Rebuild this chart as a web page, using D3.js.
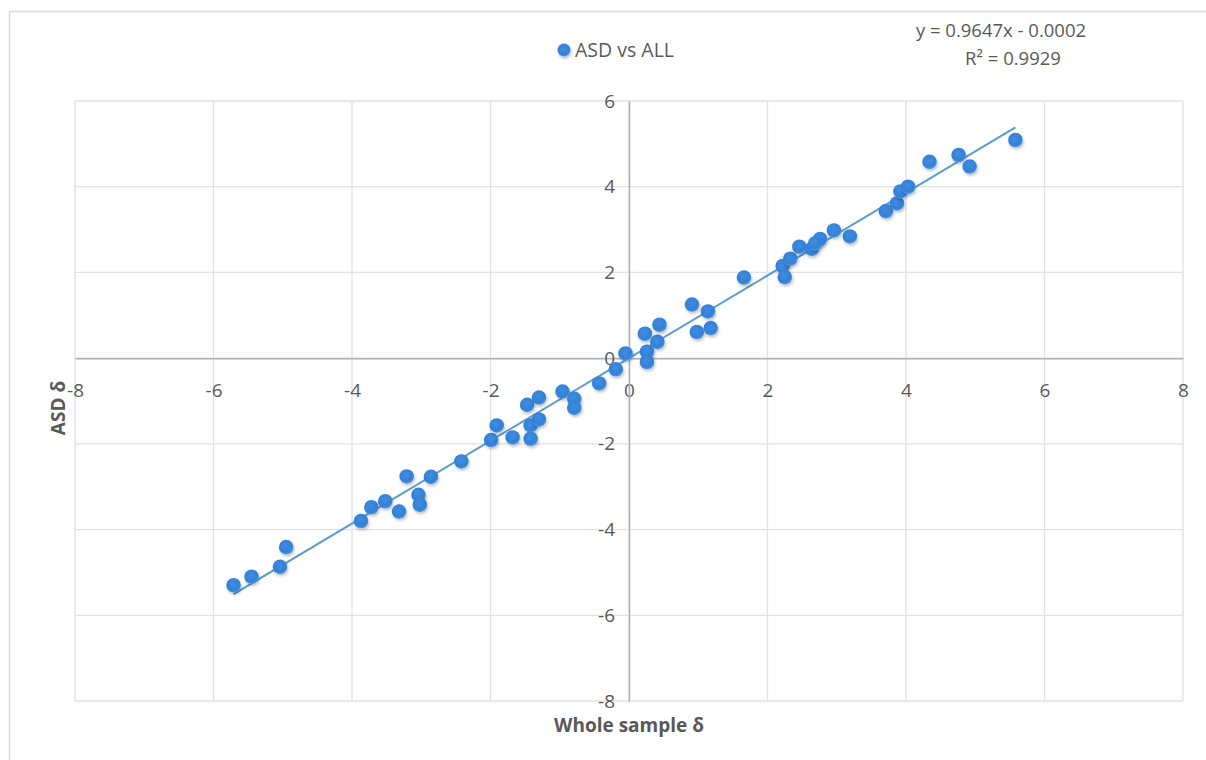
<!DOCTYPE html>
<html><head><meta charset="utf-8">
<script src="https://cdn.jsdelivr.net/npm/d3@7/dist/d3.min.js"></script>
<style>
html,body{margin:0;padding:0;background:#fff;}
svg text{font-family:"Open Sans",Lato,sans-serif;}
</style></head>
<body>
<svg id="chart" width="1206" height="760"></svg>
<script>
const xValues = [-5.71,-5.45,-5.04,-4.95,-3.87,-3.72,-3.52,-3.32,-3.21,-3.04,-3.02,-2.86,-2.42,-1.99,-1.91,
  -1.68,-1.47,-1.30,-1.42,-1.30,-1.42,-0.96,-0.79,-0.79,-0.43,-0.19,-0.05,0.23,0.26,0.26,0.41,0.44,0.91,1.14,0.98,1.18,
  1.66,2.22,2.25,2.33,2.46,2.64,2.76,2.69,2.96,3.19,3.71,3.87,3.92,4.03,4.34,4.76,4.92,5.58];
const yValues = [-5.30,-5.10,-4.87,-4.41,-3.80,-3.48,-3.34,-3.58,-2.76,-3.19,-3.42,-2.77,-2.41,-1.91,-1.57,
  -1.85,-1.09,-0.92,-1.57,-1.43,-1.88,-0.78,-0.95,-1.16,-0.59,-0.26,0.11,0.57,0.15,-0.09,0.38,0.78,1.25,1.09,0.61,0.70,
  1.88,2.15,1.89,2.32,2.60,2.55,2.78,2.68,2.98,2.84,3.43,3.61,3.89,4.00,4.58,4.74,4.47,5.09];
const xTicks = [-8,-6,-4,-2,0,2,4,6,8];
const yTicks = [-8,-6,-4,-2,0,2,4,6];
const seriesName = "ASD vs ALL";
const xTitle = "Whole sample δ";
const yTitle = "ASD δ";
const slope = 0.9647, intercept = -0.0002;
const eqText = "y = 0.9647x - 0.0002";
const r2Label = "R² = 0.9929";

const svg = d3.select("#chart");
const L = 75, R = 1183, T = 101, B = 701;
const x = d3.scaleLinear().domain([-8, 8]).range([L, R]);
const y = d3.scaleLinear().domain([-8, 6]).range([B, T]);

const defs = svg.append("defs");
const f = defs.append("filter").attr("id","sh").attr("x","-50%").attr("y","-50%").attr("width","200%").attr("height","200%");
f.append("feDropShadow").attr("dx",1).attr("dy",2).attr("stdDeviation",1.8).attr("flood-color","#000").attr("flood-opacity",0.25);
const rg = defs.append("radialGradient").attr("id","mk").attr("cx","45%").attr("cy","40%").attr("r","60%");
rg.append("stop").attr("offset","0%").attr("stop-color","#3f8de0");
rg.append("stop").attr("offset","75%").attr("stop-color","#3380d6");
rg.append("stop").attr("offset","100%").attr("stop-color","#5097de");

// chart border
svg.append("rect").attr("x",9.5).attr("y",11.5).attr("width",1210).attr("height",760)
  .attr("fill","none").attr("stroke","#d9d9d9").attr("stroke-width",1.5);

// gridlines
svg.append("g").selectAll("line").data(xTicks).join("line")
  .attr("x1",d=>x(d)).attr("x2",d=>x(d)).attr("y1",T).attr("y2",B)
  .attr("stroke","#e1e1e6").attr("stroke-width",1.3);
svg.append("g").selectAll("line").data(yTicks).join("line")
  .attr("y1",d=>y(d)).attr("y2",d=>y(d)).attr("x1",L).attr("x2",R)
  .attr("stroke","#e1e1e6").attr("stroke-width",1.3);

const fmt = d => String(d);
// axes through zero
const xAxis = d3.axisBottom(x).tickValues(xTicks).tickSize(0).tickFormat(fmt);
const gx = svg.append("g").attr("transform",`translate(0,${y(0)})`).call(xAxis);
gx.select(".domain").attr("stroke","#a9b1bc").attr("stroke-width",1.5);
gx.selectAll("text").attr("font-size",19).attr("fill","#595959").attr("dy","0.35em").attr("y",32);

const yAxis = d3.axisLeft(y).tickValues(yTicks).tickSize(0).tickPadding(14).tickFormat(fmt);
const gy = svg.append("g").attr("transform",`translate(${x(0)},0)`).call(yAxis);
gy.select(".domain").attr("stroke","#a9b1bc").attr("stroke-width",1.5);
gy.selectAll("text").attr("font-size",19).attr("fill","#595959");

// trendline
const xmin = d3.min(xValues), xmax = d3.max(xValues);
svg.append("line")
  .attr("x1",x(xmin)).attr("y1",y(slope*xmin+intercept))
  .attr("x2",x(xmax)).attr("y2",y(slope*xmax+intercept))
  .attr("stroke","#5b9bd5").attr("stroke-width",2);

// points
const pts = xValues.map((v,i)=>({x:v,y:yValues[i]}));
svg.append("g").selectAll("circle").data(pts).join("circle")
  .attr("cx",d=>x(d.x)).attr("cy",d=>y(d.y)).attr("r",7.3)
  .attr("fill","url(#mk)").attr("filter","url(#sh)");

// legend
svg.append("circle").attr("cx",564).attr("cy",50).attr("r",6.5).attr("fill","url(#mk)").attr("filter","url(#sh)");
svg.append("text").attr("x",575).attr("y",50).attr("dy","0.35em").attr("font-size",19.5).attr("fill","#595959").text(seriesName);

// equation
svg.append("text").attr("x",1001).attr("y",31).attr("dy","0.35em").attr("text-anchor","middle").attr("font-size",18.5).attr("fill","#595959").text(eqText);
svg.append("text").attr("x",1013).attr("y",59).attr("dy","0.35em").attr("text-anchor","middle").attr("font-size",18.5).attr("fill","#595959").text(r2Label);

// axis titles
svg.append("text").attr("x",629).attr("y",725).attr("dy","0.35em").attr("text-anchor","middle")
  .attr("font-size",19).attr("font-weight","bold").attr("fill","#595959").text(xTitle);
svg.append("text").attr("transform","translate(58,408) rotate(-90)").attr("dy","0.35em").attr("text-anchor","middle")
  .attr("font-size",19).attr("font-weight","bold").attr("fill","#595959").text(yTitle);
</script>
</body></html>
